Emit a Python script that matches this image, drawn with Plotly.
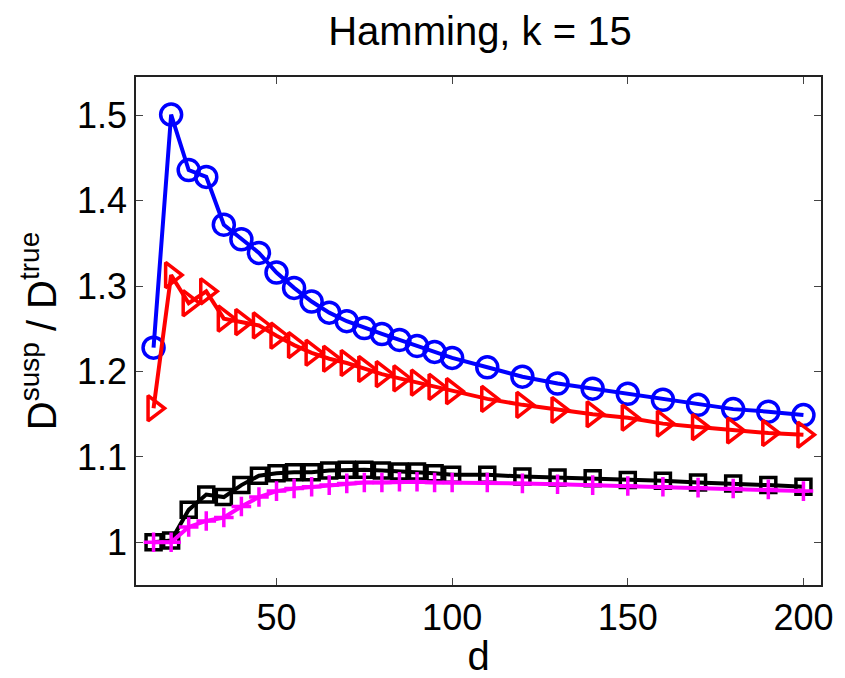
import plotly.graph_objects as go

d = [15, 20, 25, 30, 35, 40, 45, 50, 55, 60, 65, 70, 75, 80, 85, 90, 95, 100,
     110, 120, 130, 140, 150, 160, 170, 180, 190, 200]

blue_circle = [1.228, 1.501, 1.436, 1.428, 1.372, 1.355, 1.339, 1.316, 1.298, 1.282,
               1.269, 1.259, 1.251, 1.244, 1.237, 1.230, 1.223, 1.216,
               1.205, 1.194, 1.186, 1.180, 1.174, 1.167, 1.161, 1.156, 1.153, 1.149]

red_triangle = [1.157, 1.313, 1.280, 1.294, 1.262, 1.258, 1.254, 1.242, 1.231, 1.222,
                1.215, 1.210, 1.203, 1.197, 1.192, 1.187, 1.182, 1.177,
                1.168, 1.161, 1.155, 1.150, 1.146, 1.139, 1.135, 1.131, 1.128, 1.126]

black_square = [1.000, 1.002, 1.038, 1.056, 1.053, 1.067, 1.078, 1.081, 1.082, 1.082,
                1.084, 1.085, 1.085, 1.084, 1.083, 1.083, 1.081, 1.079,
                1.079, 1.077, 1.076, 1.075, 1.073, 1.072, 1.070, 1.069, 1.067, 1.065]

magenta_plus = [1.000, 1.000, 1.018, 1.025, 1.029, 1.042, 1.053, 1.060, 1.063, 1.065,
                1.067, 1.069, 1.070, 1.070, 1.071, 1.071, 1.070, 1.070,
                1.070, 1.069, 1.068, 1.067, 1.066, 1.065, 1.064, 1.063, 1.062, 1.060]

x_ticks = [50, 100, 150, 200]
y_ticks = [1.0, 1.1, 1.2, 1.3, 1.4, 1.5]
y_tick_labels = ["1", "1.1", "1.2", "1.3", "1.4", "1.5"]

FONT = "Liberation Sans, Arial, Helvetica, sans-serif"

fig = go.Figure()

series = [
    (blue_circle, "#0000FF", "circle-open", 21),
    (red_triangle, "#FF0000", "triangle-right-open", 22),
    (black_square, "#000000", "square-open", 15),
    (magenta_plus, "#FF00FF", "cross-thin-open", 14),
]
for vals, col, sym, sz in series:
    fig.add_trace(go.Scatter(
        x=d, y=vals, mode="lines+markers",
        line=dict(color=col, width=4),
        marker=dict(symbol=sym, size=sz, color=col, line=dict(color=col, width=3.5)),
        showlegend=False,
    ))

fig.update_layout(
    width=845, height=678,
    margin=dict(l=136, r=21, t=77, b=88),
    paper_bgcolor="white", plot_bgcolor="white",
    font=dict(family=FONT, size=36, color="black"),
    title=dict(text="Hamming, k = 15", x=0.568, xanchor="center", y=0.955, yanchor="middle",
               font=dict(family=FONT, size=40, color="black")),
)
fig.update_xaxes(
    range=[10, 205], tickvals=x_ticks, ticks="inside", ticklen=7, tickcolor="#444",
    showline=True, linecolor="#222", linewidth=1.5, mirror="ticks", showgrid=False,
    zeroline=False, tickfont=dict(family=FONT, size=36),
    title=dict(text="d", font=dict(family=FONT, size=40), standoff=0),
)
fig.update_yaxes(
    range=[0.95, 1.545], tickvals=y_ticks, ticktext=y_tick_labels, ticks="inside",
    ticklen=7, tickcolor="#444",
    showline=True, linecolor="#222", linewidth=1.5, mirror="ticks", showgrid=False,
    zeroline=False, tickfont=dict(family=FONT, size=36),
    title=dict(text="D<sup>susp</sup> / D<sup>true</sup>", font=dict(family=FONT, size=40), standoff=8),
)

fig.write_html("out.html")
